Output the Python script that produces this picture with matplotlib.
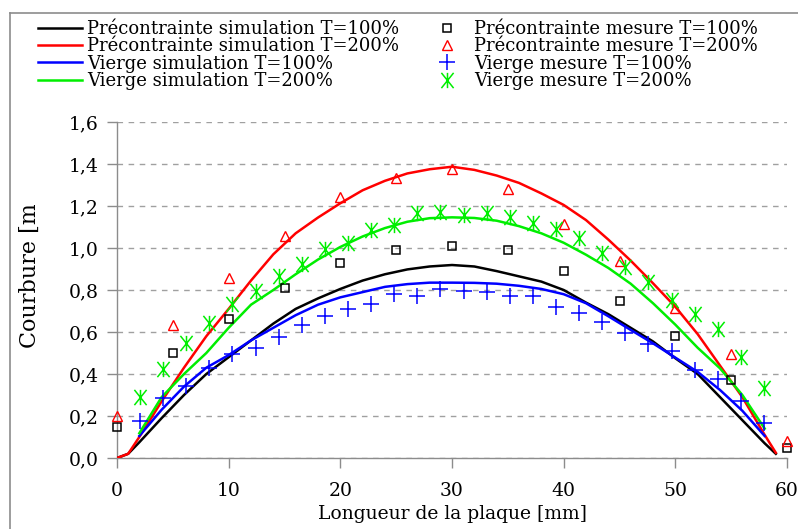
import matplotlib
matplotlib.use("Agg")
import matplotlib.pyplot as plt
from matplotlib.path import Path
from matplotlib.lines import Line2D
from matplotlib.transforms import Bbox
import numpy as np

# ---------------- data ----------------
sim_x_full = [0, 1, 2, 4, 6, 8, 10, 12, 14, 16, 18, 20, 22, 24, 26, 28, 30,
              32, 34, 36, 38, 40, 42, 44, 46, 48, 50, 52, 54, 56, 58, 59]
pre_sim_100 = [0, 0.02, 0.075, 0.19, 0.30, 0.40, 0.48, 0.56, 0.64, 0.71, 0.76,
               0.805, 0.845, 0.875, 0.898, 0.912, 0.919, 0.912, 0.89, 0.865,
               0.84, 0.80, 0.74, 0.685, 0.62, 0.555, 0.475, 0.40, 0.29, 0.18,
               0.07, 0.02]
pre_sim_200 = [0, 0.02, 0.10, 0.27, 0.43, 0.58, 0.71, 0.845, 0.97, 1.07, 1.145,
               1.213, 1.275, 1.32, 1.355, 1.375, 1.387, 1.372, 1.345, 1.31,
               1.26, 1.205, 1.133, 1.04, 0.94, 0.832, 0.72, 0.59, 0.44, 0.29,
               0.11, 0.025]

sim_x_part = [2, 4, 6, 8, 10, 12, 14, 16, 18, 20, 22, 24, 26, 28, 30, 32, 34,
              36, 38, 40, 42, 44, 46, 48, 50, 52, 54, 56, 58]
vie_sim_100 = [0.105, 0.23, 0.34, 0.43, 0.49, 0.56, 0.62, 0.68, 0.73, 0.765,
               0.79, 0.815, 0.828, 0.835, 0.835, 0.834, 0.83, 0.82, 0.805,
               0.78, 0.737, 0.675, 0.61, 0.546, 0.478, 0.41, 0.324, 0.225,
               0.105]
vie_sim_200 = [0.118, 0.29, 0.40, 0.50, 0.62, 0.73, 0.80, 0.875, 0.945, 1.005,
               1.055, 1.095, 1.125, 1.142, 1.146, 1.143, 1.13, 1.104, 1.07,
               1.025, 0.968, 0.905, 0.83, 0.737, 0.635, 0.525, 0.427, 0.30,
               0.14]

pre_mes_x = [0, 5, 10, 15, 20, 25, 30, 35, 40, 45, 50, 55, 60]
pre_mes_100 = [0.15, 0.50, 0.66, 0.81, 0.93, 0.99, 1.01, 0.99, 0.89, 0.75,
               0.58, 0.37, 0.05]
pre_mes_200 = [0.20, 0.635, 0.855, 1.055, 1.245, 1.335, 1.375, 1.28, 1.115,
               0.94, 0.715, 0.495, 0.08]

vie_mes_x = [2.07, 4.14, 6.21, 8.28, 10.34, 12.41, 14.48, 16.55, 18.62, 20.69,
             22.76, 24.83, 26.90, 28.97, 31.03, 33.10, 35.17, 37.24, 39.31,
             41.38, 43.45, 45.52, 47.59, 49.66, 51.72, 53.79, 55.86, 57.93]
vie_mes_100 = [0.178, 0.284, 0.343, 0.427, 0.495, 0.524, 0.575, 0.633, 0.676,
               0.71, 0.733, 0.781, 0.773, 0.803, 0.797, 0.789, 0.773, 0.773,
               0.718, 0.689, 0.649, 0.597, 0.541, 0.511, 0.419, 0.375, 0.273,
               0.168]
vie_mes_200 = [0.289, 0.424, 0.549, 0.644, 0.732, 0.797, 0.867, 0.924, 0.994,
               1.022, 1.086, 1.11, 1.165, 1.171, 1.157, 1.165, 1.149, 1.12,
               1.089, 1.046, 0.978, 0.908, 0.84, 0.752, 0.684, 0.613, 0.482,
               0.335]

xticks = [0, 10, 20, 30, 40, 50, 60]
yticks = [0.0, 0.2, 0.4, 0.6, 0.8, 1.0, 1.2, 1.4, 1.6]
ytick_labels = ["0,0", "0,2", "0,4", "0,6", "0,8", "1,0", "1,2", "1,4", "1,6"]

labels = ["Précontrainte simulation T=100%", "Précontrainte simulation T=200%",
          "Vierge simulation T=100%", "Vierge simulation T=200%",
          "Précontrainte mesure T=100%", "Précontrainte mesure T=200%",
          "Vierge mesure T=100%", "Vierge mesure T=200%"]

# ---------------- figure ----------------
plt.rcParams['font.family'] = ['DejaVu Serif']
W, H = 798, 529
fig = plt.figure(figsize=(W / 100, H / 100), dpi=100)
ax = fig.add_axes([117 / W, (H - 458) / H, (787 - 117) / W, (458 - 122) / H])

# asterisk marker (x with vertical bar)
star = Path([(-0.8, -1), (0.8, 1), (-0.8, 1), (0.8, -1), (0, -1), (0, 1)],
            [Path.MOVETO, Path.LINETO, Path.MOVETO, Path.LINETO,
             Path.MOVETO, Path.LINETO])

lw = 1.8
h1, = ax.plot(sim_x_full, pre_sim_100, color='black', lw=lw, zorder=3)
h2, = ax.plot(sim_x_full, pre_sim_200, color='#ff0000', lw=lw, zorder=3)
h3, = ax.plot(sim_x_part, vie_sim_100, color='#0000ff', lw=lw, zorder=3)
h4, = ax.plot(sim_x_part, vie_sim_200, color='#00ee00', lw=lw, zorder=3)

h5, = ax.plot(pre_mes_x, pre_mes_100, ls='none', marker='s', ms=5.5,
              mfc='none', mec='black', mew=1.1, clip_on=False, zorder=4)
h6, = ax.plot(pre_mes_x, pre_mes_200, ls='none', marker='^', ms=7,
              mfc='none', mec='#ff0000', mew=1.0, clip_on=False, zorder=4)
h7, = ax.plot(vie_mes_x, vie_mes_100, ls='none', marker='+', ms=11,
              mec='#0000ff', mew=1.1, clip_on=False, zorder=4)
h8, = ax.plot(vie_mes_x, vie_mes_200, ls='none', marker=star, ms=11,
              mec='#00ee00', mfc='none', mew=1.1, clip_on=False, zorder=4)

ax.set_xlim(0, 60)
ax.set_ylim(0, 1.6)
ax.set_xticks(xticks)
ax.set_yticks(yticks)
ax.set_yticklabels(ytick_labels)

for s in ['top', 'right']:
    ax.spines[s].set_visible(False)
for s in ['left', 'bottom']:
    ax.spines[s].set_color('#8c8c8c')
    ax.spines[s].set_linewidth(1.0)
ax.tick_params(axis='both', colors='#8c8c8c', labelcolor='black',
               labelsize=13.5, length=7, width=1.0, direction='out')
ax.tick_params(axis='x', pad=10)
ax.tick_params(axis='y', pad=6)
ax.yaxis.grid(True, color='#a0a0a0', ls=(0, (4, 4)), lw=1.0)
ax.set_axisbelow(True)

ax.set_xlabel("Longueur de la plaque [mm]", fontsize=13.5, labelpad=4)

# y label, clipped at the top as in the original
yl = fig.text(30 / W, (H - 348) / H, "Courbure [mm]", rotation=90,
              ha='center', va='bottom', fontsize=16)
yl.set_clip_on(True)
yl.set_clip_box(Bbox([[0, 0], [W, H - 205]]))

# legend
leg = fig.legend([h1, h2, h3, h4, h5, h6, h7, h8], labels, ncol=2,
                 loc='upper left', bbox_to_anchor=(38 / W, 1 - 20 / H),
                 frameon=False, fontsize=13, handlelength=2.45,
                 handletextpad=0.25, columnspacing=1.45, labelspacing=-0.04,
                 borderaxespad=0, borderpad=0)

# grey outer frame (open to the right and bottom)
fig.add_artist(Line2D([9.5 / W, 9.5 / W], [0, 1 - 12.5 / H],
                      color='#8c8c8c', lw=1.2, transform=fig.transFigure))
fig.add_artist(Line2D([9.5 / W, 1], [1 - 12.5 / H, 1 - 12.5 / H],
                      color='#8c8c8c', lw=1.2, transform=fig.transFigure))

fig.savefig("out.png", dpi=100)
